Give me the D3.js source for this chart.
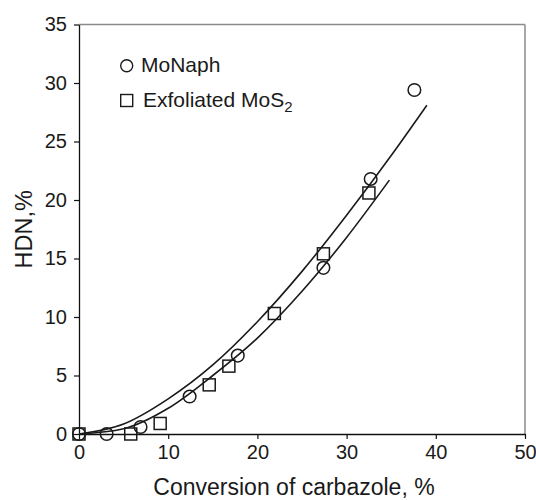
<!DOCTYPE html>
<html>
<head>
<meta charset="utf-8">
<script src="https://cdn.jsdelivr.net/npm/d3@7"></script>
<style>
  body { margin: 0; background: #fff; }
  text { font-family: "Liberation Sans", Arial, sans-serif; fill: #1a1a1a; }
</style>
</head>
<body>
<script>
// HDN vs carbazole conversion

var xTicks = [0, 10, 20, 30, 40, 50];
var yTicks = [0, 5, 10, 15, 20, 25, 30, 35];

// MoNaph (circles)
var monaphX = [0, 3.1, 6.9, 12.4, 17.8, 27.4, 32.7, 37.6];
var monaphY = [0, 0, 0.6, 3.2, 6.7, 14.2, 21.8, 29.4];
// Exfoliated MoS2 (squares)
var mosX = [0, 5.8, 9.1, 14.6, 16.8, 21.9, 27.4, 32.5];
var mosY = [0, 0, 0.9, 4.2, 5.8, 10.3, 15.4, 20.6];

// fitted curves
var fitMonaphX = [0, 5, 10, 15, 20, 25, 30, 35, 39];
var fitMonaphY = [0, 0.85, 3.0, 5.9, 9.6, 13.9, 18.7, 23.8, 28.1];
var fitMosX = [0, 5, 10, 15, 20, 25, 30, 34.8];
var fitMosY = [0, 0.45, 2.2, 5.0, 8.2, 12.2, 16.8, 21.7];

var width = 536, height = 500;
var plotL = 79, plotR = 525, plotT = 24.5, plotB = 434;

var svg = d3.select('body')
  .append('svg')
  .attr('width', width)
  .attr('height', height);

var x = d3.scaleLinear().domain([0, 50]).range([plotL, plotR]);
var y = d3.scaleLinear().domain([0, 35]).range([plotB, plotT]);

// frame top / right
svg.append('line')
  .attr('x1', plotL).attr('x2', plotR)
  .attr('y1', plotT).attr('y2', plotT)
  .attr('stroke', '#8a8a8a').attr('stroke-width', 1.5);
svg.append('line')
  .attr('x1', plotR).attr('x2', plotR)
  .attr('y1', plotT).attr('y2', plotB)
  .attr('stroke', '#8a8a8a').attr('stroke-width', 1.5);

var gx = svg.append('g')
  .attr('transform', 'translate(0,' + plotB + ')')
  .call(d3.axisBottom(x).tickValues(xTicks).tickSizeOuter(0).tickSizeInner(5).tickPadding(6));
var gy = svg.append('g')
  .attr('transform', 'translate(' + plotL + ',0)')
  .call(d3.axisLeft(y).tickValues(yTicks).tickSizeOuter(0).tickSizeInner(5).tickPadding(7));

[gx, gy].forEach(function (g) {
  g.select('.domain').attr('stroke', '#111').attr('stroke-width', 1.3);
  g.selectAll('.tick line').attr('stroke', '#111').attr('stroke-width', 1.2);
  g.selectAll('.tick text')
    .style('font-family', '"Liberation Sans", Arial, sans-serif')
    .style('font-size', '20px')
    .attr('fill', '#1a1a1a');
});

// axis titles
svg.append('text')
  .attr('x', 294).attr('y', 495)
  .attr('text-anchor', 'middle')
  .style('font-size', '23px')
  .text('Conversion of carbazole, %');
svg.append('text')
  .attr('transform', 'translate(32,' + ((plotT + plotB) / 2) + ') rotate(-90)')
  .attr('text-anchor', 'middle')
  .style('font-size', '23.5px')
  .text('HDN,%');

// fitted lines
var line = d3.line()
  .x(function (d) { return x(d[0]); })
  .y(function (d) { return y(d[1]); })
  .curve(d3.curveMonotoneX);

[[fitMonaphX, fitMonaphY], [fitMosX, fitMosY]].forEach(function (s) {
  svg.append('path')
    .datum(d3.zip(s[0], s[1]))
    .attr('d', line)
    .attr('fill', 'none')
    .attr('stroke', '#1a1a1a')
    .attr('stroke-width', 1.6);
});

// points
var sq = 12;
svg.selectAll('.sq')
  .data(d3.zip(mosX, mosY))
  .enter()
  .append('rect')
  .attr('x', function (d) { return x(d[0]) - sq / 2; })
  .attr('y', function (d) { return y(d[1]) - sq / 2; })
  .attr('width', sq)
  .attr('height', sq)
  .attr('fill', 'none')
  .attr('stroke', '#1a1a1a')
  .attr('stroke-width', 1.5);

svg.selectAll('.circ')
  .data(d3.zip(monaphX, monaphY))
  .enter()
  .append('circle')
  .attr('cx', function (d) { return x(d[0]); })
  .attr('cy', function (d) { return y(d[1]); })
  .attr('r', 6.3)
  .attr('fill', 'none')
  .attr('stroke', '#1a1a1a')
  .attr('stroke-width', 1.5);

// legend
svg.append('circle')
  .attr('cx', 126.7).attr('cy', 65.7).attr('r', 6)
  .attr('fill', 'none').attr('stroke', '#1a1a1a').attr('stroke-width', 1.4);
svg.append('text')
  .attr('x', 141).attr('y', 72)
  .style('font-size', '21px')
  .text('MoNaph');
svg.append('rect')
  .attr('x', 120.7).attr('y', 94.5).attr('width', 12).attr('height', 12)
  .attr('fill', 'none').attr('stroke', '#1a1a1a').attr('stroke-width', 1.4);
var lt = svg.append('text')
  .attr('x', 143).attr('y', 107)
  .style('font-size', '21px');
lt.append('tspan').text('Exfoliated MoS');
lt.append('tspan').attr('dy', 5).style('font-size', '15px').text('2');
</script>
</body>
</html>
